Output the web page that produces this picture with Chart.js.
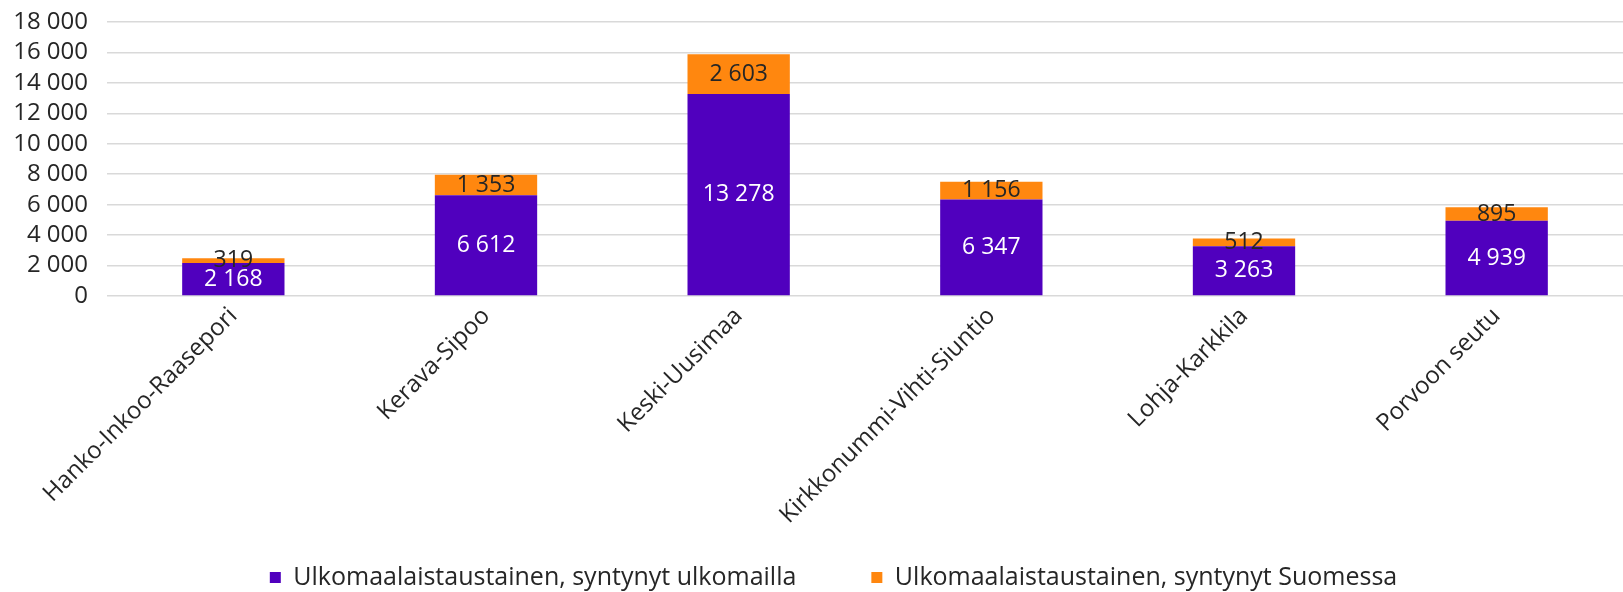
<!DOCTYPE html>
<html>
<head>
<meta charset="utf-8">
<script src="https://cdn.jsdelivr.net/npm/chart.js@4"></script>
<style>
  html, body { margin: 0; padding: 0; background: #fff; overflow: hidden; }
  #wrap { width: 1623px; height: 592px; }
</style>
</head>
<body>
<div id="wrap"><canvas id="myChart" width="1623" height="592"></canvas></div>
<script>
// Data
const regions = ["Hanko-Inkoo-Raasepori", "Kerava-Sipoo", "Keski-Uusimaa", "Kirkkonummi-Vihti-Siuntio", "Lohja-Karkkila", "Porvoon seutu"];
const bornAbroad = [2168, 6612, 13278, 6347, 3263, 4939];
const bornInFinland = [319, 1353, 2603, 1156, 512, 895];
const seriesNames = ["Ulkomaalaistaustainen, syntynyt ulkomailla", "Ulkomaalaistaustainen, syntynyt Suomessa"];

const FONT = "'Open Sans', sans-serif";
const PLOT_TOP = 22;

// space as thousands separator
function fmt(v) {
  return String(v).replace(/\B(?=(\d{3})+(?!\d))/g, " ");
}

// layout tweaks + labels inside the bar segments
const segmentLabels = {
  id: "segmentLabels",
  afterLayout(chart) {
    // nudge legend a bit right / down
    const lg = chart.legend;
    if (lg) {
      lg.left += 16; lg.right += 16;
      lg.top += 8; lg.bottom += 8;
    }
    // pull the plot top up
    const ys = chart.scales.y;
    ys.top = PLOT_TOP;
    ys.height = ys.bottom - PLOT_TOP;
    ys.configure();
    chart.chartArea.top = PLOT_TOP;
    chart.chartArea.height = chart.chartArea.bottom - PLOT_TOP;
  },
  afterDatasetsDraw(chart) {
    const ctx = chart.ctx;
    ctx.save();
    ctx.font = "23px " + FONT;
    ctx.textAlign = "center";
    ctx.textBaseline = "middle";
    chart.data.datasets.forEach((ds, i) => {
      const meta = chart.getDatasetMeta(i);
      ctx.fillStyle = i === 0 ? "#ffffff" : "#262626";
      meta.data.forEach((bar, j) => {
        const y = (bar.y + bar.base) / 2;
        ctx.fillText(fmt(ds.data[j]), bar.x, y);
      });
    });
    ctx.restore();
  }
};

const ctx = document.getElementById("myChart").getContext("2d");

const myChart = new Chart(ctx, {
  type: "bar",
  data: {
    labels: regions,
    datasets: [
      {
        label: seriesNames[0],
        data: bornAbroad,
        backgroundColor: "#5000be",
        barPercentage: 0.81,
        categoryPercentage: 0.5
      },
      {
        label: seriesNames[1],
        data: bornInFinland,
        backgroundColor: "#ff870f",
        barPercentage: 0.81,
        categoryPercentage: 0.5
      }
    ]
  },
  options: {
    responsive: false,
    animation: false,
    layout: { autoPadding: false, padding: { top: 0, right: -12, left: 0, bottom: 0 } },
    plugins: {
      legend: {
        position: "bottom",
        labels: {
          boxWidth: 11,
          boxHeight: 11,
          padding: 75,
          color: "#262626",
          font: { family: FONT, size: 25 }
        }
      },
      tooltip: { enabled: false }
    },
    scales: {
      x: {
        stacked: true,
        grid: { display: false, drawTicks: false },
        border: { display: false },
        ticks: {
          autoSkip: false,
          minRotation: 45,
          maxRotation: 45,
          padding: 6,
          color: "#262626",
          font: { family: FONT, size: 24 }
        },
        afterFit(scale) {
          scale.height = 186;
          // long rotated labels reach into the legend band, don't clip them
          scale._computeLabelArea = () => undefined;
        }
      },
      y: {
        stacked: true,
        min: 0,
        max: 18000,
        grid: { color: "#d9d9d9", lineWidth: 1.5, drawTicks: false },
        border: { display: false },
        ticks: {
          autoSkip: false,
          stepSize: 2000,
          padding: 19,
          color: "#262626",
          font: { family: FONT, size: 24 },
          callback: (v) => fmt(v)
        },
        afterFit(scale) { scale.width = 107; }
      }
    }
  },
  plugins: [segmentLabels]
});
</script>
</body>
</html>
